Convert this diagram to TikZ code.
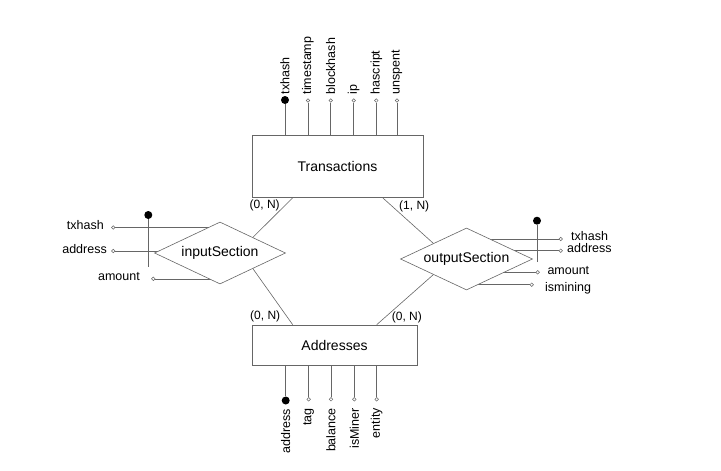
\documentclass[tikz,border=0pt]{standalone}
\usepackage{fontspec}
\setmainfont{Liberation Sans}
\usetikzlibrary{shapes.geometric,calc,backgrounds}
\begin{document}
\begin{tikzpicture}[x=1pt,y=-1pt,
 ln/.style={draw=black!60,line width=0.6pt},
 entity/.style={draw=black!60,line width=0.6pt,fill=white,rectangle,inner sep=0pt,font=\fontsize{14}{16}\selectfont},
 rel/.style={draw=black!60,line width=0.6pt,fill=white,diamond,inner sep=0pt,aspect=2.1,font=\fontsize{14}{16}\selectfont},
 opt/.style={circle,draw=black!60,fill=white,line width=0.5pt,inner sep=0pt,minimum size=3.6pt},
 keyc/.style={circle,fill=black,inner sep=0pt,minimum size=8pt},
 lbl/.style={inner sep=0pt,font=\fontsize{12.5}{14}\selectfont},
 card/.style={inner sep=0pt,font=\fontsize{12}{14}\selectfont,anchor=west},
]
\useasboundingbox (0,0) rectangle (721,471);

% entities and relationships
\node[entity,minimum width=171pt,minimum height=62pt] (T) at (337.5,166.5) {Transactions};
\node[entity,minimum width=165pt,minimum height=40pt] (A) at (334.5,345) {Addresses};
\node[rel,minimum width=131pt,minimum height=62pt] (I) at (220,253) {inputSection};
\node[rel,minimum width=132pt,minimum height=62pt] (O) at (466.5,259) {outputSection};

% relationship connectors
\draw[ln] ($(T.south west)+(41,0)$) -- (I.north east);
\draw[ln] (I.south east) -- ($(A.north west)+(41,0)$);
\draw[ln] ($(T.south west)+(131,0)$) -- (O.north west);
\draw[ln] (O.south west) -- ($(A.north west)+(125,0)$);

% cardinalities
\node[card] (c1) at (249.5,205) {(0, N)};
\node[card] (c2) at (399,206) {(1, N)};
\node[card] (c3) at (250,316.5) {(0, N)};
\node[card] (c4) at (391.7,317) {(0, N)};

% Transactions attributes
\node[keyc] (tk) at (285,100) {};
\draw[ln] (tk) -- (tk |- T.north);
\node[lbl,rotate=90,anchor=west] (tkl) at (285,94.5) {txhash};
\foreach \x/\t [count=\i] in {308/timestamp,330.7/blockhash,353.7/ip,376.3/hascript,397/unspent}{
  \node[opt] (t\i) at (\x,100.5) {};
  \draw[ln] (t\i) -- (t\i |- T.north);
  \node[lbl,rotate=90,anchor=west] (tl\i) at (\x,94.5) {\t};
}

% Addresses attributes
\node[keyc] (ak) at (285.7,400.5) {};
\draw[ln] (ak) -- (ak |- A.south);
\node[lbl,rotate=90,anchor=east] (akl) at (285.7,409) {address};
\foreach \x/\t [count=\i] in {308.7/tag,331/balance,354.3/isMiner,376.7/entity}{
  \node[opt] (a\i) at (\x,399.3) {};
  \draw[ln] (a\i) -- (a\i |- A.south);
  \node[lbl,rotate=90,anchor=east] (al\i) at (\x,408) {\t};
}

% inputSection attributes
\node[keyc] (ik) at (148.3,215) {};
\coordinate (ike) at (148.3,266.5);
\draw[ln] (ik) -- (ike);
\node[opt] (i1) at (113.3,227.5) {};
\node[opt] (i2) at (113.3,251) {};
\node[opt] (i3) at (153.3,278.8) {};
\node[lbl,anchor=east] (il1) at (104,225.5) {txhash};
\node[lbl,anchor=east] (il2) at (107,249) {address};
\node[lbl,anchor=east] (il3) at (140,277) {amount};

% outputSection attributes
\node[keyc] (ok) at (537,220.7) {};
\coordinate (oke) at (537,261.7);
\draw[ln] (ok) -- (oke);
\node[opt] (o1) at (560.7,239) {};
\node[opt] (o2) at (560.7,250.7) {};
\node[opt] (o3) at (537.7,272.3) {};
\node[opt] (o4) at (531.7,284.7) {};
\node[lbl,anchor=west] (ol1) at (571,236.5) {txhash};
\node[lbl,anchor=west] (ol2) at (567,248) {address};
\node[lbl,anchor=west] (ol3) at (547.3,270.5) {amount};
\node[lbl,anchor=west] (ol4) at (545,288) {ismining};

\begin{scope}[on background layer]
  \foreach \n in {i1,i2,i3}{\draw[ln] (\n) -- (\n -| I.center);}
  \foreach \n in {o1,o2,o3,o4}{\draw[ln] (\n) -- (\n -| O.center);}
\end{scope}
\end{tikzpicture}
\end{document}
